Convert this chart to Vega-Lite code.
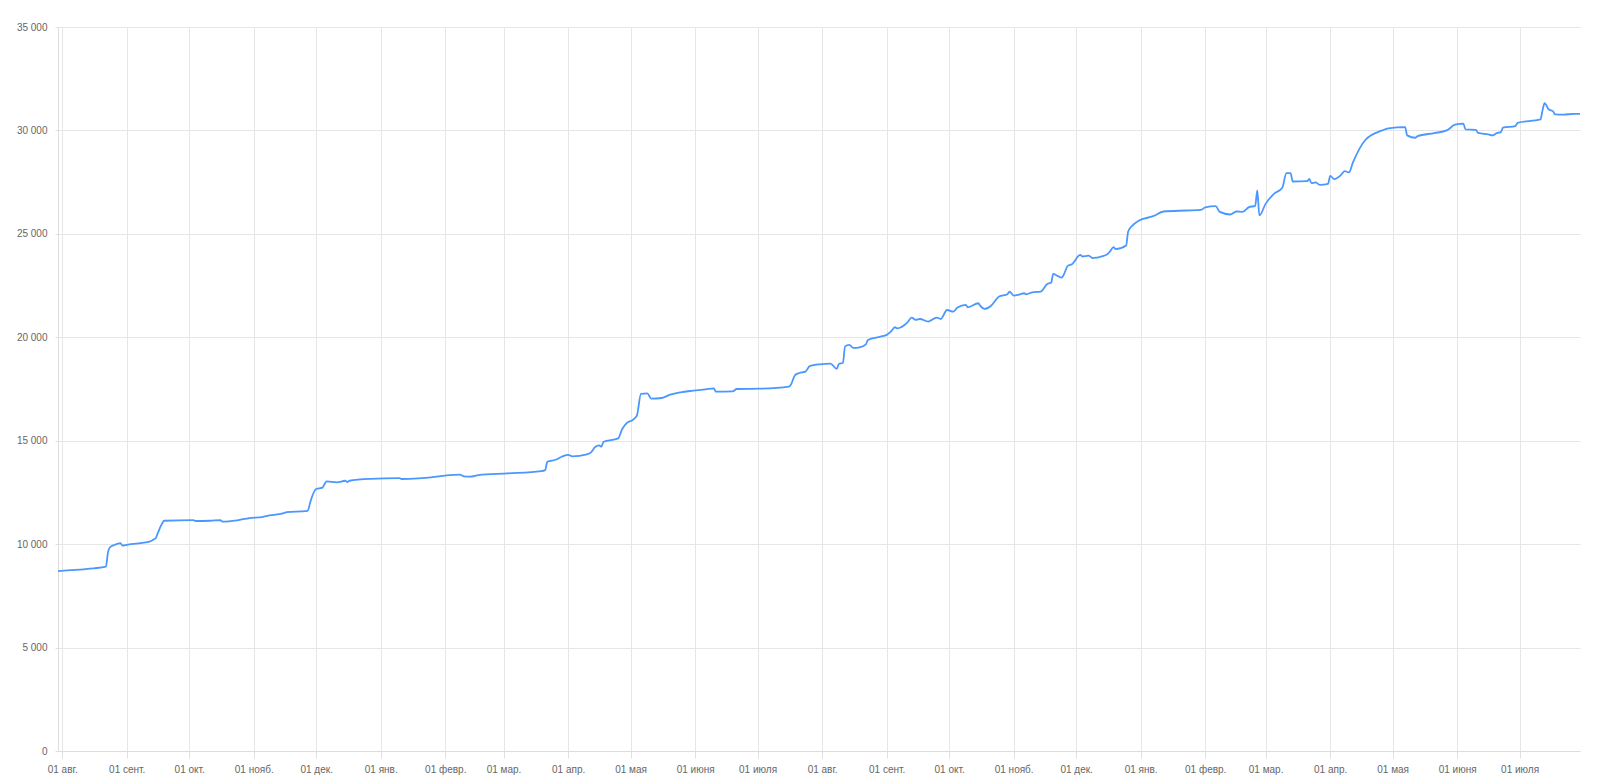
{
  "$schema": "https://vega.github.io/schema/vega-lite/v6.json",
  "width": 1522,
  "height": 724,
  "autosize": {"type": "none"},
  "padding": {"left": 58, "top": 27, "right": 20, "bottom": 29},
  "background": "#ffffff",
  "config": {
    "view": {"stroke": null},
    "font": "Liberation Sans",
    "axis": {"labelFont": "Liberation Sans", "labelFontSize": 10, "labelColor": "#666666", "gridColor": "#e6e6e6", "gridWidth": 1, "domainColor": "#dddddd", "tickColor": "#e0e0e0", "title": null}
  },
  "data": {"values": [
    {"date": "2014-07-30", "value": 8700},
    {"date": "2014-08-05", "value": 8740},
    {"date": "2014-08-16", "value": 8830},
    {"date": "2014-08-22", "value": 8910},
    {"date": "2014-08-23", "value": 9600},
    {"date": "2014-08-24", "value": 9850},
    {"date": "2014-08-26", "value": 9960},
    {"date": "2014-08-29", "value": 10050},
    {"date": "2014-08-30", "value": 9930},
    {"date": "2014-09-01", "value": 9970},
    {"date": "2014-09-12", "value": 10120},
    {"date": "2014-09-14", "value": 10230},
    {"date": "2014-09-15", "value": 10300},
    {"date": "2014-09-16", "value": 10550},
    {"date": "2014-09-18", "value": 11000},
    {"date": "2014-09-19", "value": 11130},
    {"date": "2014-10-03", "value": 11165},
    {"date": "2014-10-04", "value": 11120},
    {"date": "2014-10-11", "value": 11130},
    {"date": "2014-10-16", "value": 11165},
    {"date": "2014-10-17", "value": 11085},
    {"date": "2014-10-24", "value": 11150},
    {"date": "2014-10-30", "value": 11260},
    {"date": "2014-11-05", "value": 11310},
    {"date": "2014-11-07", "value": 11360},
    {"date": "2014-11-15", "value": 11490},
    {"date": "2014-11-17", "value": 11550},
    {"date": "2014-11-26", "value": 11600},
    {"date": "2014-11-27", "value": 11620},
    {"date": "2014-11-28", "value": 11970},
    {"date": "2014-11-29", "value": 12290},
    {"date": "2014-12-01", "value": 12665},
    {"date": "2014-12-04", "value": 12730},
    {"date": "2014-12-05", "value": 12900},
    {"date": "2014-12-06", "value": 13035},
    {"date": "2014-12-11", "value": 12990},
    {"date": "2014-12-15", "value": 13065},
    {"date": "2014-12-16", "value": 13005},
    {"date": "2014-12-17", "value": 13065},
    {"date": "2014-12-27", "value": 13160},
    {"date": "2015-01-10", "value": 13195},
    {"date": "2015-01-11", "value": 13150},
    {"date": "2015-01-19", "value": 13180},
    {"date": "2015-01-29", "value": 13280},
    {"date": "2015-02-03", "value": 13340},
    {"date": "2015-02-08", "value": 13360},
    {"date": "2015-02-10", "value": 13280},
    {"date": "2015-02-13", "value": 13260},
    {"date": "2015-02-17", "value": 13340},
    {"date": "2015-03-03", "value": 13420},
    {"date": "2015-03-19", "value": 13530},
    {"date": "2015-03-21", "value": 13580},
    {"date": "2015-03-22", "value": 13980},
    {"date": "2015-03-26", "value": 14080},
    {"date": "2015-03-29", "value": 14225},
    {"date": "2015-04-01", "value": 14320},
    {"date": "2015-04-03", "value": 14245},
    {"date": "2015-04-10", "value": 14340},
    {"date": "2015-04-12", "value": 14435},
    {"date": "2015-04-14", "value": 14695},
    {"date": "2015-04-16", "value": 14775},
    {"date": "2015-04-17", "value": 14710},
    {"date": "2015-04-18", "value": 14950},
    {"date": "2015-04-25", "value": 15110},
    {"date": "2015-04-27", "value": 15565},
    {"date": "2015-04-29", "value": 15840},
    {"date": "2015-05-02", "value": 16000},
    {"date": "2015-05-04", "value": 16210},
    {"date": "2015-05-06", "value": 17260},
    {"date": "2015-05-09", "value": 17290},
    {"date": "2015-05-11", "value": 17030},
    {"date": "2015-05-16", "value": 17065},
    {"date": "2015-05-20", "value": 17225},
    {"date": "2015-05-25", "value": 17340},
    {"date": "2015-05-31", "value": 17420},
    {"date": "2015-06-06", "value": 17485},
    {"date": "2015-06-10", "value": 17530},
    {"date": "2015-06-11", "value": 17370},
    {"date": "2015-06-19", "value": 17385},
    {"date": "2015-06-21", "value": 17500},
    {"date": "2015-07-02", "value": 17515},
    {"date": "2015-07-16", "value": 17615},
    {"date": "2015-07-17", "value": 17710},
    {"date": "2015-07-19", "value": 18175},
    {"date": "2015-07-21", "value": 18275},
    {"date": "2015-07-24", "value": 18340},
    {"date": "2015-07-26", "value": 18610},
    {"date": "2015-07-31", "value": 18695},
    {"date": "2015-08-05", "value": 18725},
    {"date": "2015-08-08", "value": 18470},
    {"date": "2015-08-09", "value": 18710},
    {"date": "2015-08-11", "value": 18760},
    {"date": "2015-08-12", "value": 19550},
    {"date": "2015-08-14", "value": 19630},
    {"date": "2015-08-16", "value": 19485},
    {"date": "2015-08-19", "value": 19515},
    {"date": "2015-08-22", "value": 19660},
    {"date": "2015-08-23", "value": 19870},
    {"date": "2015-08-29", "value": 20030},
    {"date": "2015-09-01", "value": 20115},
    {"date": "2015-09-03", "value": 20275},
    {"date": "2015-09-05", "value": 20485},
    {"date": "2015-09-06", "value": 20435},
    {"date": "2015-09-11", "value": 20725},
    {"date": "2015-09-13", "value": 20950},
    {"date": "2015-09-15", "value": 20840},
    {"date": "2015-09-17", "value": 20885},
    {"date": "2015-09-21", "value": 20760},
    {"date": "2015-09-25", "value": 20950},
    {"date": "2015-09-27", "value": 20885},
    {"date": "2015-09-30", "value": 21320},
    {"date": "2015-10-03", "value": 21240},
    {"date": "2015-10-05", "value": 21435},
    {"date": "2015-10-09", "value": 21565},
    {"date": "2015-10-10", "value": 21450},
    {"date": "2015-10-15", "value": 21645},
    {"date": "2015-10-16", "value": 21515},
    {"date": "2015-10-18", "value": 21370},
    {"date": "2015-10-21", "value": 21515},
    {"date": "2015-10-25", "value": 21970},
    {"date": "2015-10-29", "value": 22080},
    {"date": "2015-10-30", "value": 22210},
    {"date": "2015-11-01", "value": 22015},
    {"date": "2015-11-04", "value": 22080},
    {"date": "2015-11-06", "value": 22130},
    {"date": "2015-11-07", "value": 22080},
    {"date": "2015-11-10", "value": 22175},
    {"date": "2015-11-14", "value": 22210},
    {"date": "2015-11-17", "value": 22565},
    {"date": "2015-11-19", "value": 22645},
    {"date": "2015-11-20", "value": 23065},
    {"date": "2015-11-22", "value": 22970},
    {"date": "2015-11-24", "value": 22885},
    {"date": "2015-11-25", "value": 23015},
    {"date": "2015-11-27", "value": 23450},
    {"date": "2015-11-29", "value": 23530},
    {"date": "2015-12-03", "value": 23985},
    {"date": "2015-12-04", "value": 23905},
    {"date": "2015-12-07", "value": 23950},
    {"date": "2015-12-09", "value": 23825},
    {"date": "2015-12-11", "value": 23855},
    {"date": "2015-12-16", "value": 24015},
    {"date": "2015-12-17", "value": 24115},
    {"date": "2015-12-19", "value": 24355},
    {"date": "2015-12-20", "value": 24260},
    {"date": "2015-12-25", "value": 24435},
    {"date": "2015-12-26", "value": 25115},
    {"date": "2015-12-28", "value": 25400},
    {"date": "2015-12-31", "value": 25630},
    {"date": "2016-01-07", "value": 25855},
    {"date": "2016-01-12", "value": 26080},
    {"date": "2016-01-23", "value": 26130},
    {"date": "2016-01-30", "value": 26160},
    {"date": "2016-02-01", "value": 26280},
    {"date": "2016-02-06", "value": 26340},
    {"date": "2016-02-08", "value": 26060},
    {"date": "2016-02-13", "value": 25935},
    {"date": "2016-02-16", "value": 26080},
    {"date": "2016-02-19", "value": 26065},
    {"date": "2016-02-22", "value": 26290},
    {"date": "2016-02-25", "value": 26355},
    {"date": "2016-02-26", "value": 27100},
    {"date": "2016-02-27", "value": 25890},
    {"date": "2016-03-01", "value": 26450},
    {"date": "2016-03-05", "value": 26935},
    {"date": "2016-03-09", "value": 27225},
    {"date": "2016-03-11", "value": 27935},
    {"date": "2016-03-13", "value": 27935},
    {"date": "2016-03-14", "value": 27530},
    {"date": "2016-03-21", "value": 27550},
    {"date": "2016-03-22", "value": 27660},
    {"date": "2016-03-23", "value": 27450},
    {"date": "2016-03-25", "value": 27485},
    {"date": "2016-03-27", "value": 27370},
    {"date": "2016-03-31", "value": 27420},
    {"date": "2016-04-01", "value": 27805},
    {"date": "2016-04-03", "value": 27645},
    {"date": "2016-04-06", "value": 27825},
    {"date": "2016-04-08", "value": 28030},
    {"date": "2016-04-10", "value": 27970},
    {"date": "2016-04-12", "value": 28470},
    {"date": "2016-04-18", "value": 29550},
    {"date": "2016-04-26", "value": 30000},
    {"date": "2016-04-29", "value": 30100},
    {"date": "2016-05-07", "value": 30160},
    {"date": "2016-05-08", "value": 29760},
    {"date": "2016-05-12", "value": 29645},
    {"date": "2016-05-13", "value": 29725},
    {"date": "2016-05-21", "value": 29870},
    {"date": "2016-05-27", "value": 30000},
    {"date": "2016-05-31", "value": 30275},
    {"date": "2016-06-04", "value": 30325},
    {"date": "2016-06-05", "value": 30050},
    {"date": "2016-06-10", "value": 30030},
    {"date": "2016-06-11", "value": 29885},
    {"date": "2016-06-16", "value": 29805},
    {"date": "2016-06-18", "value": 29760},
    {"date": "2016-06-20", "value": 29870},
    {"date": "2016-06-22", "value": 29920},
    {"date": "2016-06-23", "value": 30130},
    {"date": "2016-06-29", "value": 30210},
    {"date": "2016-06-30", "value": 30370},
    {"date": "2016-07-11", "value": 30530},
    {"date": "2016-07-12", "value": 30970},
    {"date": "2016-07-13", "value": 31320},
    {"date": "2016-07-15", "value": 31015},
    {"date": "2016-07-17", "value": 30935},
    {"date": "2016-07-18", "value": 30775},
    {"date": "2016-07-22", "value": 30760},
    {"date": "2016-07-27", "value": 30805},
    {"date": "2016-07-30", "value": 30805}
  ]},
  "mark": {"type": "line", "interpolate": "monotone", "color": "#4a97ff", "strokeWidth": 1.8},
  "encoding": {
    "x": {
      "field": "date",
      "type": "temporal",
      "scale": {"type": "utc", "nice": false},
      "axis": {
        "tickCount": {"interval": "month", "step": 1},
        "labelExpr": "'01 ' + ['янв.','февр.','мар.','апр.','мая','июня','июля','авг.','сент.','окт.','нояб.','дек.'][utcmonth(datum.value)]",
        "labelAlign": "center",
        "labelBaseline": "top",
        "labelFlush": false,
        "labelOverlap": false,
        "tickSize": 7,
        "labelPadding": 6,
        "grid": true,
        "domain": true
      }
    },
    "y": {
      "field": "value",
      "type": "quantitative",
      "scale": {"domain": [0, 35000], "nice": false, "zero": true},
      "axis": {
        "values": [0, 5000, 10000, 15000, 20000, 25000, 30000, 35000],
        "labelExpr": "replace(format(datum.value, ','), ',', ' ')",
        "tickSize": 3,
        "labelPadding": 8,
        "grid": true,
        "domain": true
      }
    }
  }
}
